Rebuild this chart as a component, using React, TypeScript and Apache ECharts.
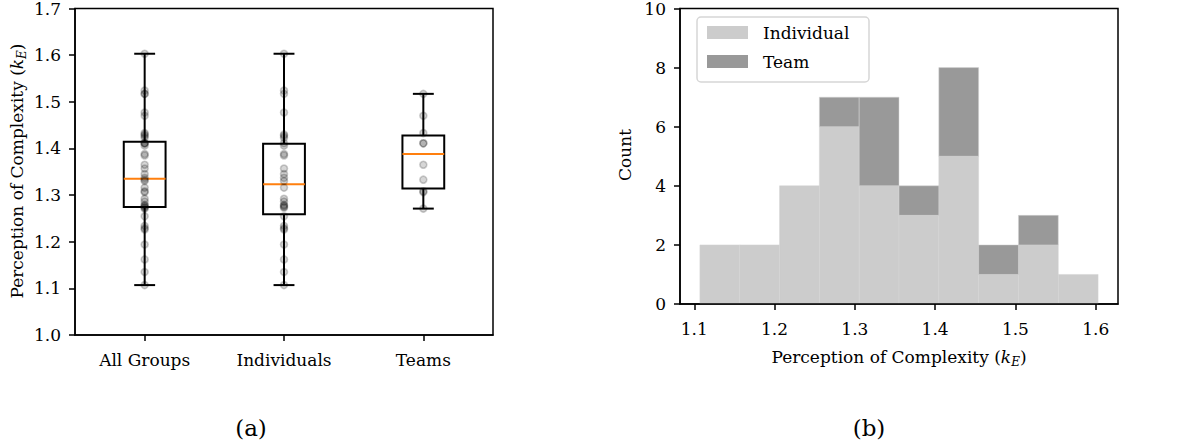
import React, { useEffect, useRef } from "react";
import * as echarts from "echarts";

// Perception of complexity scores (k_E) per participant
const categories = ["All Groups", "Individuals", "Teams"];
const individualScores = [
  1.107, 1.135, 1.162, 1.194, 1.226, 1.229, 1.234, 1.2545, 1.273, 1.275,
  1.277, 1.279, 1.286, 1.292, 1.316, 1.33, 1.337, 1.345, 1.357, 1.385,
  1.388, 1.406, 1.4113, 1.423, 1.427, 1.43, 1.477, 1.517, 1.524, 1.603,
];
const teamScores = [1.271, 1.306, 1.308, 1.333, 1.365, 1.411, 1.411, 1.433, 1.47, 1.517];

// Histogram bins and stacked counts
const binEdges = [1.107, 1.1566, 1.2062, 1.2558, 1.3054, 1.355, 1.4046, 1.4542, 1.5038, 1.5534, 1.603];
const individualCounts = [2, 2, 4, 6, 4, 3, 5, 1, 2, 1];
const teamCounts = [0, 0, 0, 1, 3, 1, 3, 1, 1, 0];
const histTicks = [1.1, 1.2, 1.3, 1.4, 1.5, 1.6];

const FONT = "'DejaVu Serif', 'Liberation Serif', serif";
const FS = 17;
const BLACK = "#000000";
const INDIVIDUAL_COLOR = "#cccccc";
const TEAM_COLOR = "#999999";
const MEDIAN_COLOR = "#ff7f0e";

function quantile(sorted: number[], p: number): number {
  const pos = (sorted.length - 1) * p;
  const lo = Math.floor(pos);
  const hi = Math.ceil(pos);
  return sorted[lo] + (sorted[hi] - sorted[lo]) * (pos - lo);
}

function boxStats(values: number[]): number[] {
  const s = [...values].sort((a, b) => a - b);
  const q1 = quantile(s, 0.25);
  const med = quantile(s, 0.5);
  const q3 = quantile(s, 0.75);
  const iqr = q3 - q1;
  const lo = s.find((v) => v >= q1 - 1.5 * iqr) as number;
  const hi = [...s].reverse().find((v) => v <= q3 + 1.5 * iqr) as number;
  return [lo, q1, med, q3, hi];
}

const subLabel = (x: number, y: number, text: string, rotate = 0) => ({
  type: "text",
  x,
  y,
  rotation: rotate,
  z: 100,
  style: {
    text,
    fill: BLACK,
    fontFamily: FONT,
    fontSize: FS,
    align: "center",
    verticalAlign: "middle",
    rich: {
      i: { fontFamily: FONT, fontSize: FS, fontStyle: "italic", lineHeight: 22, verticalAlign: "middle" },
      s: { fontFamily: FONT, fontSize: 12, fontStyle: "italic", lineHeight: 10, verticalAlign: "bottom" },
      n: { fontFamily: FONT, fontSize: FS, lineHeight: 22, verticalAlign: "middle" },
    },
  },
});

const plainText = (x: number, y: number, text: string, size = FS, rotate = 0, align = "center") => ({
  type: "text",
  x,
  y,
  rotation: rotate,
  z: 101,
  style: { text, fill: BLACK, fontFamily: FONT, fontSize: size, align, verticalAlign: "middle" },
});

export default function App() {
  const ref = useRef<HTMLDivElement>(null);

  useEffect(() => {
    if (!ref.current) return;
    const chart = echarts.init(ref.current, null, { renderer: "svg" });

    const groups = [individualScores.concat(teamScores), individualScores, teamScores];
    const boxData = groups.map((g, i) => [i, ...boxStats(g)]);
    const pointData: number[][] = [];
    groups.forEach((g, i) => g.forEach((v) => pointData.push([i, v])));

    const indivBars = individualCounts.map((c, i) => [binEdges[i], binEdges[i + 1], 0, c]);
    const teamBars = teamCounts
      .map((c, i) => [binEdges[i], binEdges[i + 1], individualCounts[i], individualCounts[i] + c])
      .filter((r) => r[3] > r[2]);

    const tickStyle = { show: true, length: 6, lineStyle: { color: BLACK, width: 1.5 } };
    const labelStyle = { color: BLACK, fontFamily: FONT, fontSize: FS };
    const lineStyle = { show: true, lineStyle: { color: BLACK, width: 1.5 } };

    const histRect = (color: string) => (params: any, api: any) => {
      const p0 = api.coord([api.value(0), api.value(3)]);
      const p1 = api.coord([api.value(1), api.value(2)]);
      return {
        type: "rect",
        shape: { x: p0[0], y: p0[1], width: p1[0] - p0[0], height: p1[1] - p0[1] },
        style: { fill: color, stroke: "#d4d4d4", lineWidth: 0.5 },
      };
    };

    chart.setOption({
      animation: false,
      backgroundColor: "#ffffff",
      grid: [
        { left: 75, top: 7, width: 418, height: 328, show: true, borderColor: BLACK, borderWidth: 1.5 },
        { left: 680, top: 7, width: 438, height: 297, show: true, borderColor: BLACK, borderWidth: 1.5 },
      ],
      xAxis: [
        {
          type: "category",
          gridIndex: 0,
          data: categories,
          z: 10,
          axisLine: lineStyle,
          axisTick: { ...tickStyle, alignWithLabel: true, interval: 0 },
          axisLabel: { ...labelStyle, margin: 16, interval: 0 },
          splitLine: { show: false },
        },
        {
          type: "value",
          gridIndex: 1,
          min: 1.0822,
          max: 1.6278,
          z: 10,
          axisLine: lineStyle,
          axisTick: { ...tickStyle, customValues: histTicks },
          axisLabel: { ...labelStyle, margin: 16, customValues: histTicks, formatter: (v: number) => v.toFixed(1) },
          splitLine: { show: false },
        },
      ],
      yAxis: [
        {
          type: "value",
          gridIndex: 0,
          min: 1.0,
          max: 1.7,
          interval: 0.1,
          z: 10,
          axisLine: lineStyle,
          axisTick: tickStyle,
          axisLabel: { ...labelStyle, margin: 14, formatter: (v: number) => v.toFixed(1) },
          splitLine: { show: false },
        },
        {
          type: "value",
          gridIndex: 1,
          min: 0,
          max: 10,
          interval: 2,
          z: 10,
          axisLine: lineStyle,
          axisTick: tickStyle,
          axisLabel: { ...labelStyle, margin: 14 },
          splitLine: { show: false },
        },
      ],
      series: [
        {
          name: "Box",
          type: "custom",
          xAxisIndex: 0,
          yAxisIndex: 0,
          z: 2,
          encode: { x: 0, y: [1, 2, 3, 4, 5] },
          data: boxData,
          renderItem: (params: any, api: any) => {
            const idx = api.value(0);
            const band = api.size([1, 0])[0];
            const boxW = band * 0.3;
            const capW = boxW / 2;
            const cx = api.coord([idx, 0])[0];
            const y = (k: number) => api.coord([idx, api.value(k)])[1];
            const [yLo, yQ1, yMed, yQ3, yHi] = [y(1), y(2), y(3), y(4), y(5)];
            const stroke = { stroke: BLACK, lineWidth: 2, fill: "none" };
            return {
              type: "group",
              children: [
                { type: "line", shape: { x1: cx, y1: yQ1, x2: cx, y2: yLo }, style: stroke },
                { type: "line", shape: { x1: cx, y1: yQ3, x2: cx, y2: yHi }, style: stroke },
                { type: "line", shape: { x1: cx - capW / 2, y1: yLo, x2: cx + capW / 2, y2: yLo }, style: stroke },
                { type: "line", shape: { x1: cx - capW / 2, y1: yHi, x2: cx + capW / 2, y2: yHi }, style: stroke },
                { type: "rect", shape: { x: cx - boxW / 2, y: yQ3, width: boxW, height: yQ1 - yQ3 }, style: stroke },
                {
                  type: "line",
                  shape: { x1: cx - boxW / 2, y1: yMed, x2: cx + boxW / 2, y2: yMed },
                  style: { stroke: MEDIAN_COLOR, lineWidth: 2 },
                },
              ],
            };
          },
        },
        {
          name: "Scores",
          type: "scatter",
          xAxisIndex: 0,
          yAxisIndex: 0,
          z: 3,
          symbol: "circle",
          symbolSize: 7,
          itemStyle: { color: "rgba(0,0,0,0.2)", borderColor: "rgba(0,0,0,0.24)", borderWidth: 1.6 },
          data: pointData,
        },
        {
          name: "Individual",
          type: "custom",
          xAxisIndex: 1,
          yAxisIndex: 1,
          z: 2,
          encode: { x: [0, 1], y: [2, 3] },
          data: indivBars,
          renderItem: histRect(INDIVIDUAL_COLOR),
        },
        {
          name: "Team",
          type: "custom",
          xAxisIndex: 1,
          yAxisIndex: 1,
          z: 2,
          encode: { x: [0, 1], y: [2, 3] },
          data: teamBars,
          renderItem: histRect(TEAM_COLOR),
        },
      ],
      graphic: [
        subLabel(17, 171, "{n|Perception of Complexity (}{i|k}{s|E}{n|)}", Math.PI / 2),
        subLabel(899, 357, "{n|Perception of Complexity (}{i|k}{s|E}{n|)}"),
        plainText(625, 155, "Count", FS, Math.PI / 2),
        plainText(251, 428, "(a)", 23),
        plainText(869, 428, "(b)", 23),
        // legend frame and entries
        {
          type: "rect",
          z: 100,
          shape: { x: 697, y: 17, width: 172, height: 65, r: 4 },
          style: { fill: "rgba(255,255,255,0.8)", stroke: "#d6d6d6", lineWidth: 1.5 },
        },
        { type: "rect", z: 101, shape: { x: 707, y: 26, width: 41, height: 13 }, style: { fill: INDIVIDUAL_COLOR } },
        { type: "rect", z: 101, shape: { x: 707, y: 55, width: 41, height: 13 }, style: { fill: TEAM_COLOR } },
        plainText(763, 33, "Individual", FS, 0, "left"),
        plainText(763, 62, "Team", FS, 0, "left"),
      ],
    });

    return () => chart.dispose();
  }, []);

  return (
    <div
      ref={ref}
      style={{ position: "fixed", left: 0, top: 0, width: 1180, height: 446, background: "#ffffff" }}
    />
  );
}
